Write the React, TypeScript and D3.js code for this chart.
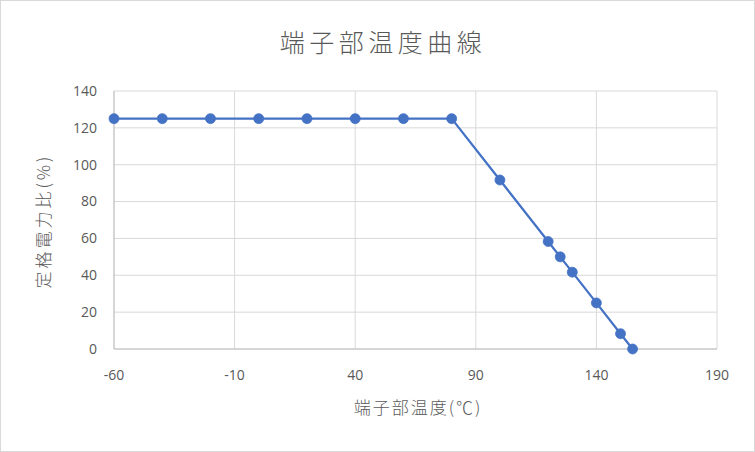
import React from "react";
import * as d3 from "d3";

const temperatures = [-60, -40, -20, 0, 20, 40, 60, 80, 100, 120, 125, 130, 140, 150, 155];
const ratios = [125, 125, 125, 125, 125, 125, 125, 125, 91.7, 58.3, 50, 41.7, 25, 8.3, 0];
const xTicks = [-60, -10, 40, 90, 140, 190];
const yTicks = [0, 20, 40, 60, 80, 100, 120, 140];
const title = "端子部温度曲線";
const xTitle = "端子部温度(℃)";
const yTitle = "定格電力比(%)";

const W = 755, H = 452;
const left = 114, right = 717, top = 91, bottom = 349;
const font = "'Noto Sans CJK JP', 'Noto Sans', sans-serif";
const numFont = "'Open Sans', 'Noto Sans', sans-serif";

export default function App() {
  const x = d3.scaleLinear().domain([-60, 190]).range([left, right]);
  const y = d3.scaleLinear().domain([0, 140]).range([bottom, top]);
  const data = temperatures.map((t, i) => ({ t, r: ratios[i] }));
  const line = d3.line<{ t: number; r: number }>().x(d => x(d.t)).y(d => y(d.r));
  return (
    <svg width={W} height={H} style={{ position: "absolute", left: 0, top: 0 }} fontFamily={font}>
      <rect x={0.5} y={0.5} width={W - 1} height={H - 1} fill="#fff" stroke="#d9d9d9" />
      <text x={383} y={52} textAnchor="middle" fontSize={25} fontWeight={300} letterSpacing={4.5} fill="#595959">{title}</text>
      {yTicks.map(v => (
        <line key={"gy" + v} x1={left} x2={right} y1={y(v)} y2={y(v)} stroke="#d9d9d9" strokeWidth={1} />
      ))}
      {xTicks.map(v => (
        <line key={"gx" + v} x1={x(v)} x2={x(v)} y1={top} y2={bottom} stroke="#d9d9d9" strokeWidth={1} />
      ))}
      <line x1={left} x2={right} y1={bottom} y2={bottom} stroke="#bfbfbf" strokeWidth={1} />
      <line x1={left} x2={left} y1={top} y2={bottom} stroke="#bfbfbf" strokeWidth={1} />
      {yTicks.map(v => (
        <text key={"ty" + v} x={left - 17} y={y(v)} dy="0.35em" textAnchor="end" fontFamily={numFont} fontSize={14} fill="#595959">{v}</text>
      ))}
      {xTicks.map(v => (
        <text key={"tx" + v} x={x(v)} y={bottom + 31} textAnchor="middle" fontFamily={numFont} fontSize={14} fill="#595959">{v}</text>
      ))}
      <text x={418} y={414} textAnchor="middle" fontSize={17} fontWeight={300} letterSpacing={2} fill="#595959">{xTitle}</text>
      <text transform={`translate(50, ${(top + bottom) / 2 + 1}) rotate(-90)`} textAnchor="middle" fontSize={17} fontWeight={300} letterSpacing={3} fill="#595959">{yTitle}</text>
      <path d={line(data) || ""} fill="none" stroke="#4472C4" strokeWidth={2.25} strokeLinejoin="round" />
      {data.map((d, i) => (
        <circle key={i} cx={x(d.t)} cy={y(d.r)} r={5} fill="#4472C4" stroke="#4472C4" strokeWidth={0.75} />
      ))}
    </svg>
  );
}
